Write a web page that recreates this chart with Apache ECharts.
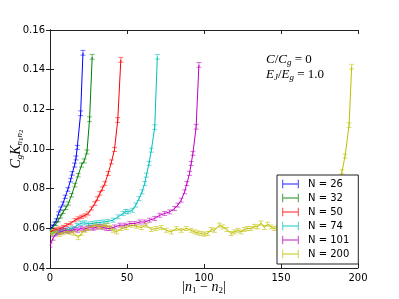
<!DOCTYPE html>
<html><head><meta charset="utf-8">
<script src="https://cdn.jsdelivr.net/npm/echarts@6/dist/echarts.min.js"></script>
<style>html,body{margin:0;padding:0;background:#fff}#c{width:399px;height:299px}</style>
</head><body><div id="c"></div>
<script>
// data: [x = |n1-n2|, value, error]
const seriesNames = ['N = 26', 'N = 32', 'N = 50', 'N = 74', 'N = 101', 'N = 200'];
const colors = ['#0000ff', '#008000', '#ff0000', '#00bfbf', '#bf00bf', '#bfbf00'];
const xTicks = [0, 50, 100, 150, 200];
const yTicks = [0.04, 0.06, 0.08, 0.10, 0.12, 0.14, 0.16];

const n26 = [[0,0.0595,0.0008],[1.4,0.0608,0.0008],[2.8,0.0624,0.0008],[4.1,0.064,0.0008],[5.6,0.0675,0.0008],[6.9,0.070,0.0008],[8.4,0.0725,0.0008],[9.9,0.0759,0.0008],[11.6,0.0796,0.0009],[13.4,0.0843,0.0009],[14.4,0.0877,0.0009],[16,0.0919,0.001],[16.9,0.0955,0.001],[17.7,0.1008,0.001],[19.9,0.118,0.0012],[21.4,0.1485,0.0012]];
const n32 = [[0,0.059,0.0008],[2.1,0.0607,0.0008],[3.8,0.0622,0.0008],[5.4,0.0641,0.0008],[7,0.066,0.0008],[8.6,0.0683,0.0008],[10.3,0.0703,0.0008],[11.9,0.0725,0.0008],[14,0.0767,0.0009],[16.2,0.0818,0.0009],[18.3,0.0868,0.0009],[20.5,0.0919,0.001],[22.2,0.094,0.001],[24,0.0985,0.001],[25.7,0.115,0.0012],[27.4,0.1465,0.0012]];
const n50 = [[0,0.058,0.0008],[2.1,0.059,0.0008],[4.3,0.0595,0.0008],[6.5,0.0599,0.0008],[8.7,0.0607,0.0008],[10.8,0.0616,0.0008],[13.5,0.0625,0.0008],[16.2,0.0641,0.0008],[18.3,0.065,0.0008],[20.5,0.0658,0.0008],[22.7,0.0665,0.0008],[24.8,0.0675,0.0008],[27,0.070,0.0008],[29.1,0.0725,0.0009],[30.8,0.075,0.0009],[32.4,0.0776,0.0009],[34,0.080,0.0009],[35.6,0.0826,0.0009],[37.8,0.0877,0.001],[39.9,0.0935,0.001],[41.9,0.0998,0.001],[44,0.1146,0.0012],[46,0.145,0.0012]];
const n74 = [[0,0.058,0.001],[2.5,0.0575,0.001],[5,0.058,0.001],[7.5,0.0585,0.001],[10,0.059,0.001],[12.5,0.0595,0.001],[15,0.060,0.001],[17.5,0.0615,0.001],[20,0.0625,0.001],[22.5,0.0628,0.001],[25,0.0622,0.001],[27.5,0.0625,0.001],[30,0.0628,0.001],[32.5,0.063,0.001],[35,0.0632,0.001],[37.5,0.0635,0.001],[41,0.0641,0.001],[44.2,0.0658,0.001],[47.5,0.0675,0.001],[49,0.0685,0.001],[50.7,0.0683,0.001],[53.5,0.0691,0.001],[55.7,0.0717,0.001],[57.8,0.075,0.001],[59.8,0.0784,0.001],[61.5,0.0826,0.001],[62.6,0.0868,0.001],[64.3,0.0927,0.001],[65.8,0.0994,0.001],[68,0.111,0.0012],[69.7,0.1465,0.0012]];
const n101 = [[0,0.0515,0.001],[2,0.055,0.001],[4,0.0572,0.001],[6,0.058,0.001],[8,0.0585,0.001],[10,0.059,0.001],[12,0.0585,0.001],[14,0.059,0.001],[16,0.0595,0.001],[18,0.059,0.001],[20,0.060,0.001],[22,0.0595,0.001],[24,0.060,0.001],[26,0.0605,0.001],[28,0.060,0.001],[30,0.0605,0.001],[32,0.061,0.001],[34,0.0605,0.001],[36.5,0.060,0.001],[38.8,0.0599,0.001],[42,0.0607,0.001],[45.3,0.0616,0.001],[48.5,0.0616,0.001],[51.8,0.0624,0.001],[55,0.0624,0.001],[58.3,0.0632,0.001],[61.5,0.0632,0.001],[64.7,0.0641,0.001],[68,0.065,0.001],[71.2,0.0666,0.001],[74.4,0.0675,0.001],[77.7,0.0683,0.001],[80.9,0.070,0.001],[83,0.0717,0.001],[85.2,0.0742,0.001],[87.4,0.0784,0.001],[88.9,0.0826,0.001],[90.6,0.0877,0.001],[91.7,0.0927,0.001],[92.8,0.0978,0.001],[94.9,0.1112,0.0012],[96.7,0.1424,0.0012]];
const n200 = [[0,0.058,0.001],[2,0.0575,0.001],[4.3,0.0582,0.001],[6.5,0.057,0.001],[8.7,0.0578,0.001],[11,0.0585,0.001],[13,0.058,0.001],[15.5,0.0575,0.001],[18.3,0.0553,0.001],[20.5,0.0575,0.001],[22.7,0.059,0.001],[25,0.060,0.001],[28,0.0616,0.001],[30,0.0612,0.001],[32.4,0.0607,0.001],[34.5,0.061,0.001],[36.7,0.0616,0.001],[39,0.0605,0.001],[41,0.059,0.001],[43.2,0.0582,0.001],[46.4,0.0599,0.001],[49.6,0.0604,0.001],[52.9,0.0616,0.001],[56.1,0.061,0.001],[59.3,0.0604,0.001],[62.6,0.0616,0.001],[65.8,0.0594,0.001],[69,0.0599,0.001],[72.3,0.0604,0.001],[75.5,0.059,0.001],[78.8,0.0582,0.001],[82,0.0599,0.001],[85.2,0.059,0.001],[88.5,0.0599,0.001],[91.7,0.059,0.001],[93.9,0.0582,0.001],[96,0.0577,0.001],[98.2,0.0574,0.001],[100.3,0.057,0.001],[102.5,0.0574,0.001],[104.6,0.0594,0.001],[106.8,0.059,0.001],[110,0.0616,0.001],[112.2,0.0607,0.001],[114.8,0.0594,0.001],[117.6,0.0574,0.001],[119.7,0.0582,0.001],[121.9,0.059,0.001],[124,0.0582,0.001],[126.2,0.0594,0.001],[128.4,0.0599,0.001],[130.5,0.0599,0.001],[132.7,0.061,0.001],[134.8,0.0607,0.001],[137,0.0627,0.001],[139.2,0.0604,0.001],[141.3,0.0621,0.001],[143.5,0.0607,0.001],[145.6,0.0599,0.001],[148,0.0605,0.001],[151,0.061,0.001],[154,0.0608,0.001],[157,0.0612,0.001],[160,0.061,0.001],[163,0.0615,0.001],[166,0.0612,0.001],[169,0.0618,0.001],[172,0.0615,0.001],[175,0.062,0.001],[178,0.0625,0.001],[181,0.063,0.001],[183.5,0.065,0.001],[185.5,0.070,0.001],[187.5,0.078,0.001],[189.6,0.0885,0.001],[191.6,0.0964,0.001],[194.2,0.112,0.0012],[195.9,0.1415,0.0012]];

const allData = [n26, n32, n50, n74, n101, n200];

const chart = echarts.init(document.getElementById('c'), null, {renderer: 'canvas'});

const serifIt = {fontFamily: 'Liberation Serif', fontStyle: 'italic', fontSize: 14, color: '#000'};
const serifSub = {fontFamily: 'Liberation Serif', fontStyle: 'italic', fontSize: 9, color: '#000', padding: [7, 0, 0, 0]};
const serifSub2 = {fontFamily: 'Liberation Serif', fontStyle: 'normal', fontSize: 7, color: '#000', padding: [11, 0, 0, 0]};
const serifRm = {fontFamily: 'Liberation Serif', fontSize: 14, color: '#000'};
const annIt = {fontFamily: 'Liberation Serif', fontStyle: 'italic', fontSize: 13, color: '#000'};
const annRm = {fontFamily: 'Liberation Serif', fontSize: 13, color: '#000'};

const series = [];
allData.forEach((d, i) => {
  series.push({
    name: seriesNames[i], type: 'line', data: d.map(p => [p[0], p[1]]),
    showSymbol: false, symbol: 'none', lineStyle: {width: 1, color: colors[i]},
    itemStyle: {color: colors[i]}, z: 3, animation: false, clip: true
  });
  series.push({
    name: seriesNames[i], type: 'custom', data: d, encode: {x: 0, y: 1},
    itemStyle: {color: colors[i]}, z: 2, animation: false, clip: true,
    renderItem: function (params, api) {
      const x = api.value(0), y = api.value(1), e = api.value(2);
      const lo = api.coord([x, y - e]), hi = api.coord([x, y + e]);
      const w = 2.5;
      const st = {stroke: colors[i], lineWidth: 1, opacity: 0.55};
      return {type: 'group', children: [
        {type: 'line', shape: {x1: lo[0], y1: lo[1], x2: hi[0], y2: hi[1]}, style: st},
        {type: 'line', shape: {x1: lo[0] - w, y1: lo[1], x2: lo[0] + w, y2: lo[1]}, style: st},
        {type: 'line', shape: {x1: hi[0] - w, y1: hi[1], x2: hi[0] + w, y2: hi[1]}, style: st}
      ]};
    }
  });
});

const axisLine = {show: true, lineStyle: {color: '#222', width: 1}};
const tick = {show: true, inside: true, length: 4, lineStyle: {color: '#222'}};

chart.setOption({
  animation: false,
  backgroundColor: '#fff',
  grid: {left: 50, top: 30, width: 308, height: 238, show: false, outerBoundsMode: 'none', containLabel: false},
  xAxis: [{
    type: 'value', min: xTicks[0], max: xTicks[xTicks.length - 1], interval: 50,
    axisLine: axisLine, axisTick: tick, splitLine: {show: false},
    axisLabel: {fontSize: 10, color: '#000', margin: 5, fontFamily: 'DejaVu Sans'},
    name: '{b||}{i|n}{s|1}{r| − }{i|n}{s|2}{b||}', nameLocation: 'middle', nameGap: 12, nameMoveOverlap: false,
    nameTextStyle: {rich: {b: serifRm, i: serifIt, s: {fontFamily: 'Liberation Serif', fontSize: 9, color: '#000', padding: [6, 0, 0, 0]}, r: serifRm}}
  }, {
    type: 'value', position: 'top', min: xTicks[0], max: xTicks[xTicks.length - 1], interval: 50,
    axisLine: axisLine, axisTick: tick, splitLine: {show: false}, axisLabel: {show: false}
  }],
  yAxis: [{
    type: 'value', min: yTicks[0], max: yTicks[yTicks.length - 1], interval: 0.02,
    axisLine: axisLine, axisTick: tick, splitLine: {show: false},
    axisLabel: {fontSize: 10, color: '#000', margin: 5, fontFamily: 'DejaVu Sans', formatter: v => v.toFixed(2)},
    name: '{i|C}{s|g}{i|K}{s|n}{t|1}{s|n}{t|2}', nameLocation: 'middle', nameGap: 25, nameRotate: 90, nameMoveOverlap: false,
    nameTextStyle: {rich: {i: serifIt, s: serifSub, t: serifSub2}}
  }, {
    type: 'value', position: 'right', min: yTicks[0], max: yTicks[yTicks.length - 1], interval: 0.02,
    axisLine: axisLine, axisTick: tick, splitLine: {show: false}, axisLabel: {show: false}
  }],
  legend: {
    orient: 'vertical', left: 277, top: 175,
    padding: [4, 9, 5, 5], itemGap: 4, itemWidth: 17, itemHeight: 10,
    borderColor: '#222', borderWidth: 1, backgroundColor: '#fff', borderRadius: 0,
    icon: 'path://M0,0h1.5v4.25h17v-4.25h1.5v10h-1.5v-4.25h-17v4.25h-1.5z',
    data: seriesNames.map((n, i) => ({name: n, itemStyle: {color: colors[i], opacity: 0.6}})),
    textStyle: {fontSize: 10, color: '#000', fontFamily: 'DejaVu Sans', padding: [0, 0, 0, 4]},
    selectedMode: false, z: 10
  },
  graphic: [{
    type: 'text', left: 266, top: 53, z: 20,
    style: {text: '{i|C}{r|/}{i|C}{s|g}{r| = 0}', rich: {i: annIt, s: serifSub, r: annRm}}
  }, {
    type: 'text', left: 266, top: 68, z: 20,
    style: {text: '{i|E}{s|J}{r|/}{i|E}{s|g}{r| = 1.0}', rich: {i: annIt, s: serifSub, r: annRm}}
  }],
  series: series
});
</script></body></html>
